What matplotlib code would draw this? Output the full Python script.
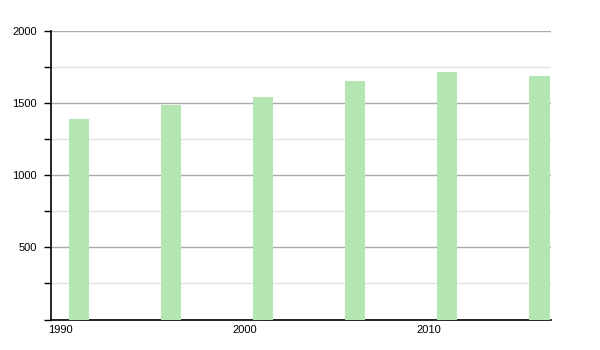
import matplotlib
matplotlib.use("Agg")
import matplotlib.pyplot as plt
from matplotlib.ticker import MultipleLocator

years = [1991, 1996, 2001, 2006, 2011, 2016]
population = [1391, 1483, 1540, 1649, 1718, 1689]
xtick_years = [1990, 2000, 2010]
ytick_values = [500, 1000, 1500, 2000]

plt.rcParams['font.family'] = ['Liberation Sans', 'DejaVu Sans']
fig = plt.figure(figsize=(6, 3.5), dpi=100)
ax = fig.add_axes([0.085, 0.087, 0.833, 0.825])

ax.bar(years, population, width=1.1, color='#b3e6b3', zorder=3)

ax.set_xlim(1989.48, 2016.62)
ax.set_ylim(0, 2000)
ax.set_yticks(ytick_values)
ax.yaxis.set_minor_locator(MultipleLocator(250))
ax.set_xticks(xtick_years)
ax.set_xticklabels([str(y) for y in xtick_years])

ax.grid(axis='y', which='major', color='#aaaaaa', linewidth=1, zorder=0)
ax.grid(axis='y', which='minor', color='#e3e3e3', linewidth=1, zorder=0)

for s in ['top', 'right']:
    ax.spines[s].set_visible(False)
ax.spines['left'].set_linewidth(1.2)
ax.spines['bottom'].set_linewidth(1.2)

ax.tick_params(axis='y', which='both', direction='out', length=5, width=1, labelsize=8, pad=5, colors='black')
ax.tick_params(axis='x', length=0, labelsize=8, pad=4)

fig.savefig('out.png', dpi=100)
